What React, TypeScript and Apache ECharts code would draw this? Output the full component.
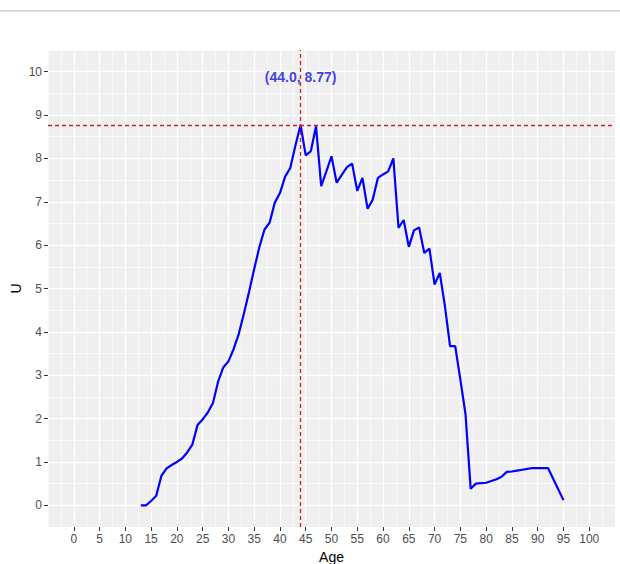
import React, { useEffect, useRef } from "react";
import * as echarts from "echarts";

const ages = [
  13, 14, 15, 16, 17, 18, 19, 20, 21, 22, 23, 24, 25, 26, 27, 28, 29, 30, 31, 32,
  33, 34, 35, 36, 37, 38, 39, 40, 41, 42, 43, 44, 45, 46, 47, 48, 49, 50, 51, 52,
  53, 54, 55, 56, 57, 58, 59, 60, 61, 62, 63, 64, 65, 66, 67, 68, 69, 70, 71, 72,
  73, 74, 75, 76, 77, 78, 79, 80, 81, 82, 83, 84, 85, 86, 87, 88, 89, 90, 91, 92, 95,
];
const uValues = [
  0, 0, 0.1, 0.22, 0.68, 0.85, 0.93, 1.0, 1.08, 1.22, 1.4, 1.85, 1.98, 2.14, 2.36, 2.85, 3.18, 3.32, 3.6, 3.95,
  4.42, 4.92, 5.45, 5.95, 6.36, 6.52, 6.98, 7.2, 7.58, 7.78, 8.3, 8.77, 8.07, 8.17, 8.74, 7.36, 7.7, 8.05, 7.44, 7.62,
  7.8, 7.88, 7.25, 7.55, 6.84, 7.05, 7.55, 7.63, 7.7, 8.0, 6.4, 6.58, 5.96, 6.34, 6.41, 5.82, 5.92, 5.09, 5.36, 4.6,
  3.67, 3.67, 2.9, 2.1, 0.38, 0.5, 0.51, 0.52, 0.56, 0.6, 0.66, 0.77, 0.78, 0.8, 0.82, 0.84, 0.86, 0.86, 0.86, 0.86, 0.12,
];
const peakAge = 44;
const peakU = 8.77;
const labelU = 9.87;
const xTickMin = 0;
const xTickMax = 100;
const xTickStep = 5;
const yTickMin = 0;
const yTickMax = 10;
const yTickStep = 1;

const W = 620;
const H = 564;
const panel = { left: 48, top: 50, right: 5, bottom: 37 };
const xMin = -5, xMax = 105, yMin = -0.5, yMax = 10.5;

export default function App() {
  const ref = useRef<HTMLDivElement>(null);
  useEffect(() => {
    document.body.style.margin = "0";
    const chart = echarts.init(ref.current!, null, { renderer: "svg" });
    const pw = W - panel.left - panel.right;
    const ph = H - panel.top - panel.bottom;
    const ux = pw / (xMax - xMin);
    const uy = ph / (yMax - yMin);
    const padX = (xTickMin - xMin) * ux;
    const padXr = (xMax - xTickMax) * ux;
    const padY = (yMax - yTickMax) * uy;
    const padYb = (yTickMin - yMin) * uy;
    const font = "Liberation Sans, Arial, sans-serif";
    const minorLine = { show: true, lineStyle: { color: "#FFFFFF", width: 0.7 } };
    const majorLine = { show: true, lineStyle: { color: "#FFFFFF", width: 1.4 } };
    const data = ages.map((a, i) => [a, uValues[i]]);
    chart.setOption({
      animation: false,
      graphic: [
        { type: "line", shape: { x1: 0, y1: 11, x2: W, y2: 11 }, style: { stroke: "#D0D0D0", lineWidth: 1.5 }, z: -1 },
      ],
      grid: [
        { left: panel.left, right: panel.right, top: panel.top, bottom: panel.bottom, show: true, backgroundColor: "#EFEFEF", borderWidth: 0, containLabel: false, outerBoundsMode: "none" },
        { left: panel.left, right: panel.right, top: panel.top + padY, bottom: panel.bottom + padYb, show: false, containLabel: false, outerBoundsMode: "none" },
        { left: panel.left + padX, right: panel.right + padXr, top: panel.top, bottom: panel.bottom, show: false, containLabel: false, outerBoundsMode: "none" },
      ],
      xAxis: [
        { type: "value", gridIndex: 0, min: xMin, max: xMax, interval: 2.5, axisLine: { show: false }, axisTick: { show: false }, axisLabel: { show: false }, splitLine: minorLine },
        { type: "value", gridIndex: 1, min: xTickMin, max: xTickMax, show: false },
        {
          type: "value", gridIndex: 2, min: xTickMin, max: xTickMax, interval: xTickStep, position: "bottom",
          axisLine: { show: false },
          axisTick: { show: true, length: 4, lineStyle: { color: "#333333", width: 1 } },
          axisLabel: { show: true, margin: 6, color: "#4D4D4D", fontSize: 12, fontFamily: font },
          splitLine: majorLine,
          name: "Age", nameLocation: "middle", nameGap: 23,
          nameTextStyle: { color: "#000000", fontSize: 14, fontFamily: font },
        },
      ],
      yAxis: [
        { type: "value", gridIndex: 0, min: yMin, max: yMax, interval: 0.5, axisLine: { show: false }, axisTick: { show: false }, axisLabel: { show: false }, splitLine: minorLine },
        {
          type: "value", gridIndex: 1, min: yTickMin, max: yTickMax, interval: yTickStep, position: "left",
          axisLine: { show: false },
          axisTick: { show: true, length: 4, lineStyle: { color: "#333333", width: 1 } },
          axisLabel: { show: true, margin: 6, color: "#4D4D4D", fontSize: 12, fontFamily: font },
          splitLine: majorLine,
          name: "U", nameLocation: "middle", nameGap: 25, nameMoveOverlap: false,
          nameTextStyle: { color: "#000000", fontSize: 14, fontFamily: font },
        },
        { type: "value", gridIndex: 2, min: yTickMin, max: yTickMax, show: false },
      ],
      series: [
        {
          type: "line",
          xAxisIndex: 0,
          yAxisIndex: 0,
          data,
          showSymbol: false,
          symbol: "none",
          lineStyle: { color: "#0000FF", width: 2.2 },
          z: 3,
          markLine: {
            silent: true,
            symbol: ["none", "none"],
            label: { show: false },
            lineStyle: { color: "#CC2222", type: [4, 3], width: 1.3 },
            data: [{ xAxis: peakAge }, { yAxis: peakU }],
          },
        },
        {
          type: "scatter",
          xAxisIndex: 0,
          yAxisIndex: 0,
          data: [[peakAge, labelU]],
          symbolSize: 1,
          itemStyle: { color: "rgba(0,0,0,0)" },
          z: 4,
          label: {
            show: true,
            position: "inside",
            formatter: `(${peakAge.toFixed(1)}, ${peakU.toFixed(2)})`,
            color: "#1010E0",
            fontWeight: "bold",
            fontSize: 14,
            fontFamily: font,
          },
        },
      ],
    });
    return () => chart.dispose();
  }, []);
  return <div ref={ref} style={{ width: W, height: H, position: "absolute", left: 0, top: 0 }} />;
}
